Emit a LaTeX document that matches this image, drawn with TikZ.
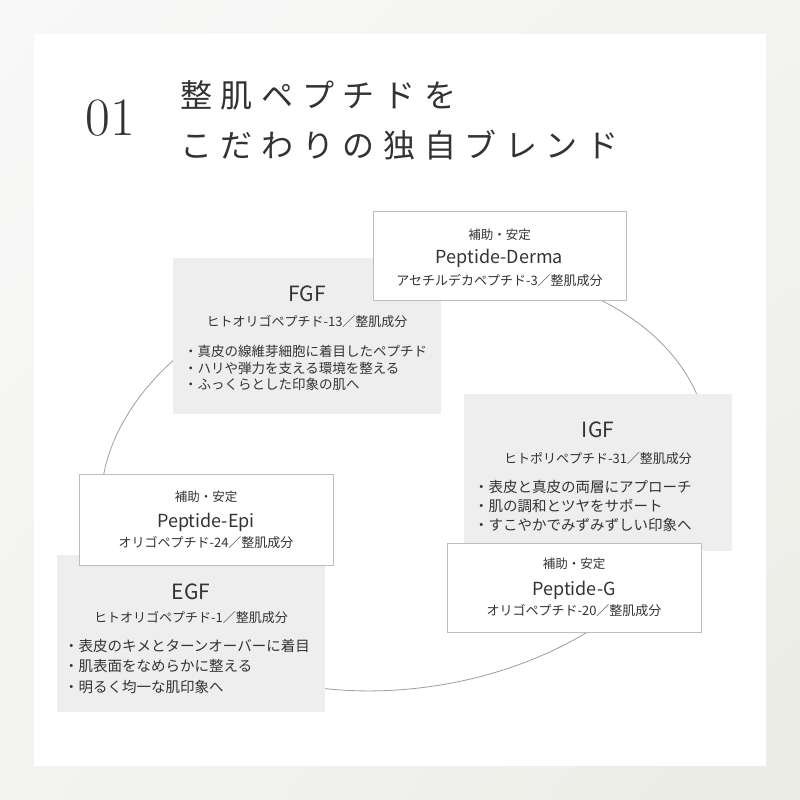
\documentclass[tikz,border=0pt]{standalone}
\usepackage{fontspec}
\usetikzlibrary{shadings}
\newfontfamily\jp{Noto Sans CJK JP}
\newfontfamily\jptitle[LetterSpace=27]{Noto Sans CJK JP}
\definecolor{txt}{HTML}{333333}
\definecolor{boxgray}{HTML}{EEEEEE}
\definecolor{edge}{HTML}{BDBDBD}
\definecolor{ring}{HTML}{9E9E9E}
\definecolor{bgA}{HTML}{F8F8F8}
\definecolor{bgB}{HTML}{ECECE6}
\definecolor{bgC}{HTML}{F3F3F1}
\begin{document}
\begin{tikzpicture}[x=1pt,y=-1pt,
  graybox/.style={fill=boxgray, draw=none, inner sep=0},
  whitebox/.style={fill=white, draw=edge, line width=0.9pt, inner sep=0},
  tnode/.style={inner sep=0, text=txt},
  ttl/.style={tnode, font=\jp\fontsize{21}{24}\selectfont},
  pname/.style={tnode, font=\jp\fontsize{18}{21}\selectfont},
  sub/.style={tnode, font=\jp\fontsize{13}{15}\selectfont},
  small/.style={tnode, font=\jp\fontsize{12.5}{14}\selectfont},
  bul/.style={tnode, anchor=west, font=\jp\fontsize{13.5}{16}\selectfont},
  bulB/.style={tnode, anchor=west, font=\jp\fontsize{14.5}{17}\selectfont},
  bigtitle/.style={tnode, anchor=west, font=\jptitle\fontsize{32}{36}\selectfont}
]
\useasboundingbox (0,0) rectangle (800,800);
\shade[upper left=bgA, lower right=bgB, upper right=bgC, lower left=bgC] (0,0) rectangle (800,800);
\fill[white] (34,34) rectangle (766,766);

% title
\node[tnode, font=\fontsize{54}{60}\selectfont] (num) at (110,118) {01};
\node[bigtitle] (t1) at (180,95) {整肌ペプチドを};
\node[bigtitle] (t2) at (180,145) {こだわりの独自ブレンド};

% ring
\draw[ring, line width=0.8pt, rotate around={9:(405,478)}] (405,478) ellipse [x radius=306pt, y radius=210pt];

% FGF
\node[graybox, minimum width=268pt, minimum height=156pt] (fgf) at (307,336) {};
\node[ttl] (fgfT) at (307,294) {FGF};
\node[sub] (fgfS) at (307,322) {ヒトオリゴペプチド-13／整肌成分};
\node[bul] (fgf1) at (184,351) {・真皮の線維芽細胞に着目したペプチド};
\node[bul] (fgf2) at (184,368) {・ハリや弾力を支える環境を整える};
\node[bul] (fgf3) at (184,384) {・ふっくらとした印象の肌へ};

% Peptide-Derma
\node[whitebox, minimum width=253pt, minimum height=89pt] (derma) at (499.5,256) {};
\node[small] (dermaA) at (499.5,235) {補助・安定};
\node[pname] (dermaN) at (499.5,258) {Peptide-Derma};
\node[sub] (dermaS) at (499.5,281) {アセチルデカペプチド-3／整肌成分};

% IGF
\node[graybox, minimum width=268pt, minimum height=157pt] (igf) at (598,472.5) {};
\node[ttl] (igfT) at (598,430) {IGF};
\node[sub] (igfS) at (598,459) {ヒトポリペプチド-31／整肌成分};
\node[bulB] (igf1) at (474,487) {・表皮と真皮の両層にアプローチ};
\node[bulB] (igf2) at (474,506) {・肌の調和とツヤをサポート};
\node[bulB] (igf3) at (474,525) {・すこやかでみずみずしい印象へ};

% Peptide-G
\node[whitebox, minimum width=254pt, minimum height=89pt] (pg) at (574,588) {};
\node[small] (pgA) at (574,564) {補助・安定};
\node[pname] (pgN) at (574,590) {Peptide-G};
\node[sub] (pgS) at (574,611) {オリゴペプチド-20／整肌成分};

% EGF
\node[graybox, minimum width=268pt, minimum height=157pt] (egf) at (191,633) {};
\node[ttl] (egfT) at (191,592) {EGF};
\node[sub] (egfS) at (191,618) {ヒトオリゴペプチド-1／整肌成分};
\node[bulB] (egf1) at (64,646) {・表皮のキメとターンオーバーに着目};
\node[bulB] (egf2) at (64,666) {・肌表面をなめらかに整える};
\node[bulB] (egf3) at (64,687) {・明るく均一な肌印象へ};

% Peptide-Epi
\node[whitebox, minimum width=254pt, minimum height=91pt] (epi) at (206,520) {};
\node[small] (epiA) at (206,497) {補助・安定};
\node[pname] (epiN) at (206,522) {Peptide-Epi};
\node[sub] (epiS) at (206,543) {オリゴペプチド-24／整肌成分};
\end{tikzpicture}
\end{document}
